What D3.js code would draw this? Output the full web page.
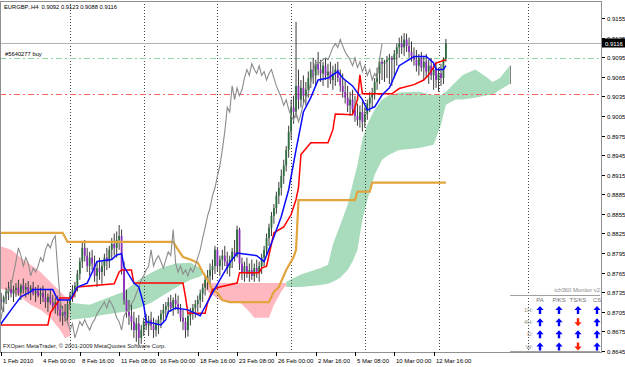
<!DOCTYPE html>
<html>
<head>
<meta charset="utf-8">
<script src="https://cdn.jsdelivr.net/npm/d3@7"></script>
<style>
body { margin: 0; background: #fff; }
svg { display: block; }
text { font-family: "Liberation Sans", Arial, sans-serif; }
</style>
</head>
<body>
<div class="chart"></div>
<script>
// EURGBP H4, 1 Feb - 15 Mar 2010, bar index 0 = Mon 1 Feb 00:00
var firstOpen = 0.8723;
var highs = [
  0.8736,0.8739,0.8734,0.8730,0.8742,0.8751,0.8754,0.8745,0.8749,0.8754,
  0.8748,0.8756,0.8749,0.8752,0.8746,0.8751,0.8743,0.8746,0.8742,0.8745,
  0.8739,0.8733,0.8740,0.8731,0.8727,0.8730,0.8723,0.8714,0.8717,0.8723,
  0.8736,0.8746,0.8751,0.8769,0.8788,0.8811,0.8815,0.8803,0.8797,0.8800,
  0.8791,0.8782,0.8788,0.8782,0.8794,0.8803,0.8806,0.8818,0.8825,0.8828,
  0.8838,0.8831,0.8782,0.8739,0.8723,0.8716,0.8705,0.8696,0.8700,0.8685,
  0.8696,0.8702,0.8699,0.8705,0.8696,0.8693,0.8699,0.8708,0.8717,0.8720,
  0.8727,0.8731,0.8727,0.8733,0.8730,0.8717,0.8708,0.8696,0.8702,0.8711,
  0.8717,0.8723,0.8730,0.8739,0.8748,0.8760,0.8769,0.8779,0.8785,0.8806,
  0.8803,0.8791,0.8800,0.8806,0.8797,0.8791,0.8803,0.8815,0.8837,0.8834,
  0.8788,0.8782,0.8788,0.8779,0.8785,0.8779,0.8785,0.8782,0.8794,0.8806,
  0.8825,0.8840,0.8858,0.8870,0.8889,0.8904,0.8923,0.8938,0.8959,0.8990,
  0.9030,0.9036,0.9149,0.9076,0.9060,0.9067,0.9057,0.9073,0.9088,0.9094,
  0.9091,0.9103,0.9091,0.9088,0.9094,0.9085,0.9088,0.9082,0.9085,0.9088,
  0.9076,0.9070,0.9060,0.9051,0.9042,0.9045,0.9036,0.9024,0.9021,0.9027,
  0.9018,0.9030,0.9042,0.9048,0.9063,0.9079,0.9091,0.9094,0.9091,0.9097,
  0.9100,0.9097,0.9106,0.9116,0.9125,0.9128,0.9132,0.9131,0.9125,0.9119,
  0.9110,0.9106,0.9100,0.9103,0.9097,0.9100,0.9091,0.9094,0.9085,0.9088,
  0.9079,0.9085,0.9095,0.9123];
var lows = [
  0.8711,0.8716,0.8708,0.8705,0.8717,0.8723,0.8727,0.8720,0.8728,0.8730,
  0.8723,0.8733,0.8727,0.8731,0.8723,0.8730,0.8720,0.8727,0.8717,0.8720,
  0.8711,0.8705,0.8716,0.8707,0.8702,0.8699,0.8690,0.8684,0.8690,0.8687,
  0.8708,0.8720,0.8727,0.8736,0.8754,0.8772,0.8782,0.8766,0.8760,0.8769,
  0.8751,0.8743,0.8754,0.8748,0.8760,0.8769,0.8772,0.8785,0.8791,0.8788,
  0.8800,0.8762,0.8716,0.8696,0.8685,0.8677,0.8665,0.8659,0.8654,0.8656,
  0.8668,0.8677,0.8668,0.8677,0.8665,0.8667,0.8671,0.8680,0.8690,0.8696,
  0.8702,0.8705,0.8699,0.8708,0.8702,0.8690,0.8677,0.8665,0.8667,0.8684,
  0.8693,0.8696,0.8705,0.8711,0.8720,0.8730,0.8739,0.8748,0.8754,0.8763,
  0.8766,0.8760,0.8769,0.8775,0.8763,0.8759,0.8772,0.8782,0.8788,0.8769,
  0.8754,0.8751,0.8757,0.8751,0.8754,0.8751,0.8757,0.8751,0.8763,0.8775,
  0.8791,0.8806,0.8821,0.8840,0.8855,0.8870,0.8883,0.8901,0.8920,0.8941,
  0.8969,0.8993,0.9002,0.9015,0.9018,0.9024,0.9021,0.9033,0.9048,0.9054,
  0.9051,0.9067,0.9057,0.9051,0.9060,0.9048,0.9054,0.9045,0.9051,0.9057,
  0.9042,0.9033,0.9024,0.9011,0.9005,0.9008,0.8996,0.8990,0.8987,0.8981,
  0.8987,0.8999,0.9011,0.9018,0.9030,0.9045,0.9054,0.9060,0.9057,0.9063,
  0.9054,0.9051,0.9063,0.9082,0.9094,0.9100,0.9097,0.9103,0.9094,0.9088,
  0.9082,0.9073,0.9067,0.9073,0.9060,0.9063,0.9054,0.9060,0.9045,0.9048,
  0.9042,0.9051,0.9054,0.9088];
var closes = [
  0.8730,0.8723,0.8720,0.8727,0.8736,0.8740,0.8733,0.8739,0.8742,0.8734,
  0.8745,0.8739,0.8743,0.8736,0.8742,0.8733,0.8737,0.8730,0.8734,0.8727,
  0.8720,0.8728,0.8719,0.8714,0.8720,0.8708,0.8699,0.8705,0.8696,0.8717,
  0.8730,0.8739,0.8745,0.8763,0.8782,0.8803,0.8791,0.8775,0.8788,0.8779,
  0.8760,0.8772,0.8766,0.8775,0.8788,0.8782,0.8800,0.8809,0.8803,0.8815,
  0.8821,0.8769,0.8723,0.8705,0.8699,0.8690,0.8677,0.8687,0.8665,0.8677,
  0.8690,0.8684,0.8693,0.8684,0.8677,0.8687,0.8693,0.8702,0.8708,0.8714,
  0.8720,0.8711,0.8723,0.8717,0.8708,0.8696,0.8690,0.8677,0.8699,0.8705,
  0.8711,0.8717,0.8723,0.8733,0.8742,0.8754,0.8760,0.8769,0.8775,0.8800,
  0.8775,0.8785,0.8791,0.8782,0.8772,0.8785,0.8797,0.8791,0.8831,0.8779,
  0.8766,0.8775,0.8763,0.8769,0.8760,0.8772,0.8766,0.8775,0.8788,0.8800,
  0.8818,0.8834,0.8852,0.8864,0.8883,0.8895,0.8913,0.8929,0.8953,0.8981,
  0.9018,0.9011,0.9051,0.9030,0.9048,0.9036,0.9045,0.9063,0.9076,0.9067,
  0.9085,0.9076,0.9070,0.9082,0.9067,0.9073,0.9060,0.9070,0.9076,0.9063,
  0.9051,0.9042,0.9033,0.9021,0.9030,0.9015,0.9005,0.8999,0.9011,0.8996,
  0.9008,0.9024,0.9033,0.9039,0.9057,0.9070,0.9088,0.9085,0.9088,0.9091,
  0.9094,0.9091,0.9100,0.9110,0.9116,0.9110,0.9122,0.9112,0.9103,0.9097,
  0.9091,0.9082,0.9094,0.9079,0.9088,0.9073,0.9082,0.9067,0.9076,0.9060,
  0.9070,0.9063,0.9092,0.9116];

// indicator lines, [bar, price]
var tenkan = [[0,0.8682],[1,0.8682],[6,0.8708],[10,0.8728],[14,0.8736],[15,0.8739],[23,0.8739],[25,0.8723],[30,0.8723],
  [33,0.8743],[37,0.8749],[41,0.8782],[47,0.8785],[49,0.8792],[51,0.8794],[52,0.8774],[56,0.8749],[58,0.8743],
  [60,0.8716],[61,0.8690],[67,0.8685],[69,0.8693],[70,0.8705],[73,0.8711],[78,0.8708],[83,0.8699],[88,0.8734],
  [91,0.8754],[95,0.8780],[98,0.8795],[106,0.8791],[109,0.8782],[113,0.8820],[116,0.8851],[119,0.8892],
  [122,0.8953],[125,0.9011],[128,0.9033],[131,0.9060],[135,0.9063],[139,0.9073],[141,0.9063],[145,0.9051],
  [149,0.9030],[151,0.9014],[154,0.9019],[157,0.9037],[160,0.9048],[164,0.9082],[170,0.9096],[175,0.9096],
  [178,0.9086],[179,0.9076],[182,0.9076],[183,0.9082]];
var kijun = [[0,0.8685],[21,0.8685],[22,0.8703],[25,0.8720],[26,0.8726],[31,0.8726],[33,0.8743],[48,0.8748],
  [50,0.8766],[51,0.8769],[55,0.8769],[56,0.8749],[76,0.8749],[77,0.8728],[78,0.8703],[85,0.8703],[86,0.8719],
  [88,0.8739],[91,0.8743],[98,0.8749],[99,0.8765],[107,0.8765],[108,0.8772],[110,0.8775],[113,0.8826],
  [117,0.8835],[120,0.8854],[122,0.8877],[123,0.8895],[124,0.8946],[128,0.8964],[135,0.8964],[137,0.8984],
  [138,0.9008],[145,0.9007],[147,0.9030],[148,0.9068],[149,0.9039],[161,0.9039],[164,0.9047],[170,0.9053],
  [174,0.9060],[176,0.9068],[179,0.9086],[183,0.9091]];
var weeklyKijun = [[0,0.8826],[27,0.8826],[29,0.8812],[72,0.8812],[74,0.8800],[76,0.8789],[79,0.8785],
  [82,0.8780],[84,0.8766],[86,0.8754],[88,0.8739],[90,0.8734],[92,0.8723],[95,0.8720],[111,0.8720],
  [113,0.8736],[115,0.8743],[118,0.8769],[121,0.8789],[122,0.8800],[123,0.8876],[146,0.8876],[147,0.8889],
  [152,0.8889],[153,0.8903],[183,0.8903]];
var chikouShift = 26;

// kumo pieces, [bar, upper, lower]
var kumoBear1 = [[0,0.8808,0.8742],[6,0.8800,0.8736],[10,0.8788,0.8727],[14,0.8777,0.8716],[18,0.8766,0.8708],
  [22,0.8751,0.8696],[26,0.8736,0.8677],[28,0.8728,0.8665],[30,0.8723,0.8668]];
var kumoBull1 = [[30,0.8719,0.8693],[38,0.8716,0.8696],[43,0.8723,0.8700],[52,0.8736,0.8705],[58,0.8754,0.8711],
  [63,0.8765,0.8719],[67,0.8772,0.8728],[73,0.8779,0.8742],[79,0.8780,0.8754],[83,0.8772,0.8759],[84,0.8766,0.8762]];
var kumoBear2 = [[84,0.8749,0.8746],[86,0.8749,0.8736],[91,0.8749,0.8723],[99,0.8749,0.8720],[103,0.8749,0.8705],
  [105,0.8749,0.8696],[111,0.8749,0.8696],[113,0.8749,0.8716],[116,0.8749,0.8736],[118,0.8749,0.8746]];
var kumoBull2 = [[118,0.8751,0.8743],[124,0.8762,0.8743],[132,0.8772,0.8746],[135,0.8777,0.8748],[137,0.8808,0.8751],
  [140,0.8838,0.8757],[143,0.8869,0.8769],[145,0.8900,0.8782],[147,0.8930,0.8800],[149,0.8969,0.8846],
  [151,0.8992,0.8876],[154,0.9015,0.8915],[157,0.9030,0.8938],[160,0.9037,0.8946],[164,0.9041,0.8953],
  [172,0.9042,0.8956],[178,0.9037,0.8961],[181,0.9037,0.8992],[183,0.9042,0.9022],[187,0.9057,0.9030],
  [190,0.9068,0.9030],[195,0.9076,0.9033],[200,0.9063,0.9037],[202,0.9057,0.9037],[205,0.9063,0.9045],
  [209,0.9082,0.9054]];

var separators = [30, 60, 90, 120, 150, 180, 216.4];
var priceTicks = [0.9155,0.9125,0.9095,0.9065,0.9035,0.9005,0.8975,0.8945,0.8915,0.8885,
  0.8855,0.8825,0.8795,0.8765,0.8735,0.8705,0.8675,0.8645];
var timeTickBars = [2, 18, 34, 50, 66, 82, 98, 114, 130, 146, 162, 178];
var timeTickLabels = ["1 Feb 2010","4 Feb 00:00","8 Feb 16:00","11 Feb 08:00","16 Feb 00:00","18 Feb 16:00",
  "23 Feb 08:00","26 Feb 00:00","2 Mar 16:00","5 Mar 08:00","10 Mar 00:00","12 Mar 16:00"];

var bidPrice = 0.9116, orderPrice = 0.9094, stopPrice = 0.9039;
var orderLabel = "#5640277 buy";
var header = "EURGBP.,H4  0.9092 0.9123 0.9088 0.9116";

var monitorRows = ["1H:", "4H:", "D:", "W:"];
var monitorCols = ["PA", "P/KS", "TS/KS", "CS"];
var monitorSignals = [[1,1,1,1],[1,1,-1,1],[1,1,1,1],[1,1,-1,1]];

var width = 625, height = 367;
var plot = {left: 0, right: 601, top: 1, bottom: 352};

var x = d3.scaleLinear().domain([0, 183]).range([-3.7, 445.9]);
var y = d3.scaleLinear().domain([0.8645, 0.9155]).range([351, 18]);

var svg = d3.select(".chart").append("svg")
    .attr("width", width)
    .attr("height", height);

svg.append("defs").append("clipPath").attr("id", "clip")
  .append("rect")
    .attr("x", plot.left).attr("y", plot.top)
    .attr("width", plot.right - plot.left).attr("height", plot.bottom - plot.top);

var g = svg.append("g").attr("clip-path", "url(#clip)");

// cloud
function kumo(data, fill) {
  var area = d3.area()
      .x(function(d) { return x(d[0]); })
      .y0(function(d) { return y(d[2]); })
      .y1(function(d) { return y(d[1]); });
  g.append("path").attr("d", area(data)).attr("fill", fill);
}
kumo(kumoBear1, "#ffb8c0");
kumo(kumoBull1, "#a8dcbc");
kumo(kumoBear2, "#ffb8c0");
kumo(kumoBull2, "#a8dcbc");
var kEnd = kumoBull2[kumoBull2.length - 1];
g.append("line")
    .attr("x1", Math.round(x(kEnd[0])) + 0.5).attr("x2", Math.round(x(kEnd[0])) + 0.5)
    .attr("y1", y(kEnd[1])).attr("y2", y(kEnd[2]))
    .attr("stroke", "#808080");

// period separators
g.selectAll(".sep")
    .data(separators)
  .enter().append("line")
    .attr("class", "sep")
    .attr("x1", function(d) { return Math.round(x(d)) + 0.5; })
    .attr("x2", function(d) { return Math.round(x(d)) + 0.5; })
    .attr("y1", plot.top).attr("y2", plot.bottom)
    .attr("stroke", "#444")
    .attr("stroke-dasharray", "1,2");

// bid / order / stop lines
function hline(p, color, dash) {
  var yy = Math.round(y(p)) + 0.5;
  g.append("line")
      .attr("x1", plot.left).attr("x2", plot.right)
      .attr("y1", yy).attr("y2", yy)
      .attr("stroke", color)
      .attr("stroke-dasharray", dash);
}
hline(bidPrice, "#b4b4b4", null);
hline(orderPrice, "#8fd6a4", "6,3,2,3");
hline(stopPrice, "#ff6060", "6,3,2,3");

// candles
var candles = closes.map(function(c, i) {
  var o = i == 0 ? firstOpen : closes[i - 1];
  return {i: i, o: o, c: c, h: Math.max(highs[i], o, c), l: Math.min(lows[i], o, c)};
});
var cg = g.selectAll(".candle")
    .data(candles)
  .enter().append("g")
    .attr("class", "candle");
cg.append("line")
    .attr("x1", function(d) { return x(d.i); })
    .attr("x2", function(d) { return x(d.i); })
    .attr("y1", function(d) { return y(d.h); })
    .attr("y2", function(d) { return y(d.l); })
    .attr("stroke", "#3c3c3c")
    .attr("stroke-width", 1);
cg.append("rect")
    .attr("x", function(d) { return x(d.i) - 0.9; })
    .attr("width", 1.8)
    .attr("y", function(d) { return y(Math.max(d.o, d.c)); })
    .attr("height", function(d) { return Math.max(1, Math.abs(y(d.o) - y(d.c))); })
    .attr("fill", function(d) { return d.c >= d.o ? "#2e6e3e" : "#8e2cc0"; });

// lines
var line = d3.line()
    .x(function(d) { return x(d[0]); })
    .y(function(d) { return y(d[1]); });

var chikou = closes.map(function(c, i) { return [i - chikouShift, c]; });
g.append("path").attr("d", line(weeklyKijun))
    .attr("fill", "none").attr("stroke", "#e2a43c").attr("stroke-width", 2.2);
g.append("path").attr("d", line(chikou))
    .attr("fill", "none").attr("stroke", "#8c8c8c").attr("stroke-width", 1.1);
g.append("path").attr("d", line(kijun))
    .attr("fill", "none").attr("stroke", "#ff0000").attr("stroke-width", 1.5);
g.append("path").attr("d", line(tenkan))
    .attr("fill", "none").attr("stroke", "#0a0aff").attr("stroke-width", 1.5);

// frame
svg.append("rect")
    .attr("x", plot.left + 0.5).attr("y", plot.top + 0.5)
    .attr("width", plot.right - plot.left).attr("height", plot.bottom - plot.top)
    .attr("fill", "none").attr("stroke", "#909090");

// price axis
var pa = svg.append("g").attr("class", "y axis");
pa.selectAll(".tick")
    .data(priceTicks)
  .enter().append("g")
    .attr("transform", function(d) { return "translate(0," + Math.round(y(d)) + ")"; })
    .each(function(d) {
      var t = d3.select(this);
      t.append("line").attr("x1", 602).attr("x2", 605).attr("y1", 0.5).attr("y2", 0.5).attr("stroke", "#000");
      t.append("text").attr("x", 607).attr("y", 2.5)
        .attr("font-size", "6px").attr("fill", "#000").text(d3.format(".4f")(d));
    });
var by = Math.round(y(bidPrice));
svg.append("rect").attr("x", 602).attr("y", by - 4.5).attr("width", 23).attr("height", 9).attr("fill", "#000");
svg.append("text").attr("x", 605).attr("y", by + 2.5)
    .attr("font-size", "6px").attr("fill", "#fff").text(d3.format(".4f")(bidPrice));

// time axis
var ta = svg.append("g").attr("class", "x axis");
ta.selectAll(".tick")
    .data(timeTickBars)
  .enter().append("g")
    .attr("transform", function(d) { return "translate(" + Math.round(x(d)) + ",0)"; })
    .each(function(d, i) {
      var t = d3.select(this);
      t.append("line").attr("x1", 0.5).attr("x2", 0.5).attr("y1", 352).attr("y2", 356).attr("stroke", "#000");
      t.append("text").attr("x", 2).attr("y", 363)
        .attr("font-size", "6px").attr("fill", "#000").text(timeTickLabels[i]);
    });

// texts on the chart
svg.append("text").attr("x", 4).attr("y", 9)
    .attr("font-size", "5.8px").attr("fill", "#000").style("white-space", "pre").text(header);
svg.append("text").attr("x", 5).attr("y", Math.round(y(orderPrice)) - 2)
    .attr("font-size", "5.8px").attr("fill", "#000").text(orderLabel);
svg.append("text").attr("x", 3).attr("y", 348)
    .attr("font-size", "5.8px").attr("fill", "#222").text("FXOpen MetaTrader, \u00a9 2001-2009 MetaQuotes Software Corp.");

// ich360 monitor
var mcx = d3.scalePoint().domain(monitorCols).range([540, 597]);
var mry = d3.scalePoint().domain(monitorRows).range([310, 346.5]);
var mon = svg.append("g").attr("class", "monitor");
mon.append("text").attr("x", 600).attr("y", 292).attr("text-anchor", "end")
    .attr("font-size", "5.8px").attr("fill", "#8a8a8a").text("ich360 Monitor v2");
mon.append("line").attr("x1", 510).attr("x2", 600).attr("y1", 295.5).attr("y2", 295.5).attr("stroke", "#a0a0a0");
mon.append("line").attr("x1", 510).attr("x2", 600).attr("y1", 351.5).attr("y2", 351.5).attr("stroke", "#a0a0a0");
mon.selectAll(".colh")
    .data(monitorCols)
  .enter().append("text")
    .attr("x", function(d) { return mcx(d); }).attr("y", 302)
    .attr("text-anchor", "middle").attr("font-size", "5.8px").attr("fill", "#707070")
    .text(function(d) { return d; });
mon.selectAll(".rowh")
    .data(monitorRows)
  .enter().append("text")
    .attr("x", 533).attr("y", function(d) { return mry(d) + 2; })
    .attr("text-anchor", "end").attr("font-size", "5.8px").attr("fill", "#8a8a8a")
    .text(function(d) { return d; });
var arrowUp = "M0,-4L3.6,0L1.2,0L1.2,4L-1.2,4L-1.2,0L-3.6,0Z";
var arrowDown = "M0,4L3.6,0L1.2,0L1.2,-4L-1.2,-4L-1.2,0L-3.6,0Z";
monitorSignals.forEach(function(row, r) {
  row.forEach(function(s, c) {
    mon.append("path")
        .attr("transform", "translate(" + mcx(monitorCols[c]) + "," + mry(monitorRows[r]) + ")")
        .attr("d", s > 0 ? arrowUp : arrowDown)
        .attr("fill", s > 0 ? "#0000ff" : "#ff2000");
  });
});
</script>
</body>
</html>
